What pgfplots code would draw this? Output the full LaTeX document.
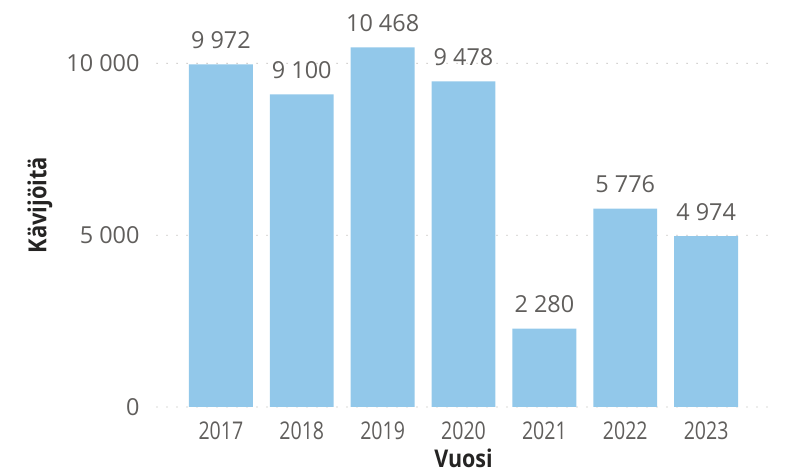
\documentclass[border=0pt]{standalone}
\usepackage{fontspec}
\setmainfont{Open Sans}
\newfontfamily\condfont[FakeStretch=0.8]{Open Sans}
\newfontfamily\lblfont[FakeStretch=0.88]{Open Sans}
\usepackage{pgfplots}
\pgfplotsset{compat=1.18}
\definecolor{barblue}{HTML}{92C8EA}
\definecolor{txtgray}{HTML}{605E5C}
\definecolor{lblgray}{HTML}{252423}
\definecolor{gridgray}{HTML}{B3B0AD}
\begin{document}
\begin{tikzpicture}[x=1bp,y=1bp]
\useasboundingbox (0,0) rectangle (803,476);
\begin{axis}[
  at={(157bp,69bp)}, anchor=south west,
  scale only axis, width=613bp, height=378bp,
  xmin=-0.79, xmax=6.79, ymin=0, ymax=11000,
  axis line style={draw=none},
  major tick length=0pt,
  ymajorgrids,
  major grid style={gridgray, line width=1.3bp, line cap=round, dash pattern=on 0bp off 10bp},
  ytick={0,5000,10000},
  xtick={0,1,2,3,4,5,6},
  xticklabels={2017,2018,2019,2020,2021,2022,2023},
  /pgf/number format/assume math mode=true,
  /pgf/number format/1000 sep={\ },
  yticklabel style={font=\fontsize{23.5}{26}\selectfont, text=txtgray, xshift=-14bp},
  xticklabel style={font=\condfont\fontsize{24.5}{26}\selectfont, text=txtgray, yshift=-11bp},
  scaled y ticks=false,
  clip=false,
  ylabel={Kävijöitä},
  xlabel={Vuosi},
  ylabel style={font=\lblfont\bfseries\fontsize{25}{28}\selectfont, text=lblgray, at={(axis description cs:-0.191,0.534)}, anchor=center, rotate=0},
  xlabel style={font=\lblfont\bfseries\fontsize{24.5}{28}\selectfont, text=lblgray, at={(axis description cs:0.5,-0.137)}, anchor=center},
  nodes near coords,
  nodes near coords style={font=\fontsize{23.5}{26}\selectfont, text=txtgray, anchor=south, yshift=12bp,
    /pgf/number format/assume math mode=true, /pgf/number format/1000 sep={\ }},
]
\addplot[ybar, bar width=0.79, bar shift=0pt, fill=barblue, draw=none] coordinates {
  (0,9972) (1,9100) (2,10468) (3,9478) (4,2280) (5,5776) (6,4974)
};
\end{axis}
\end{tikzpicture}
\end{document}
